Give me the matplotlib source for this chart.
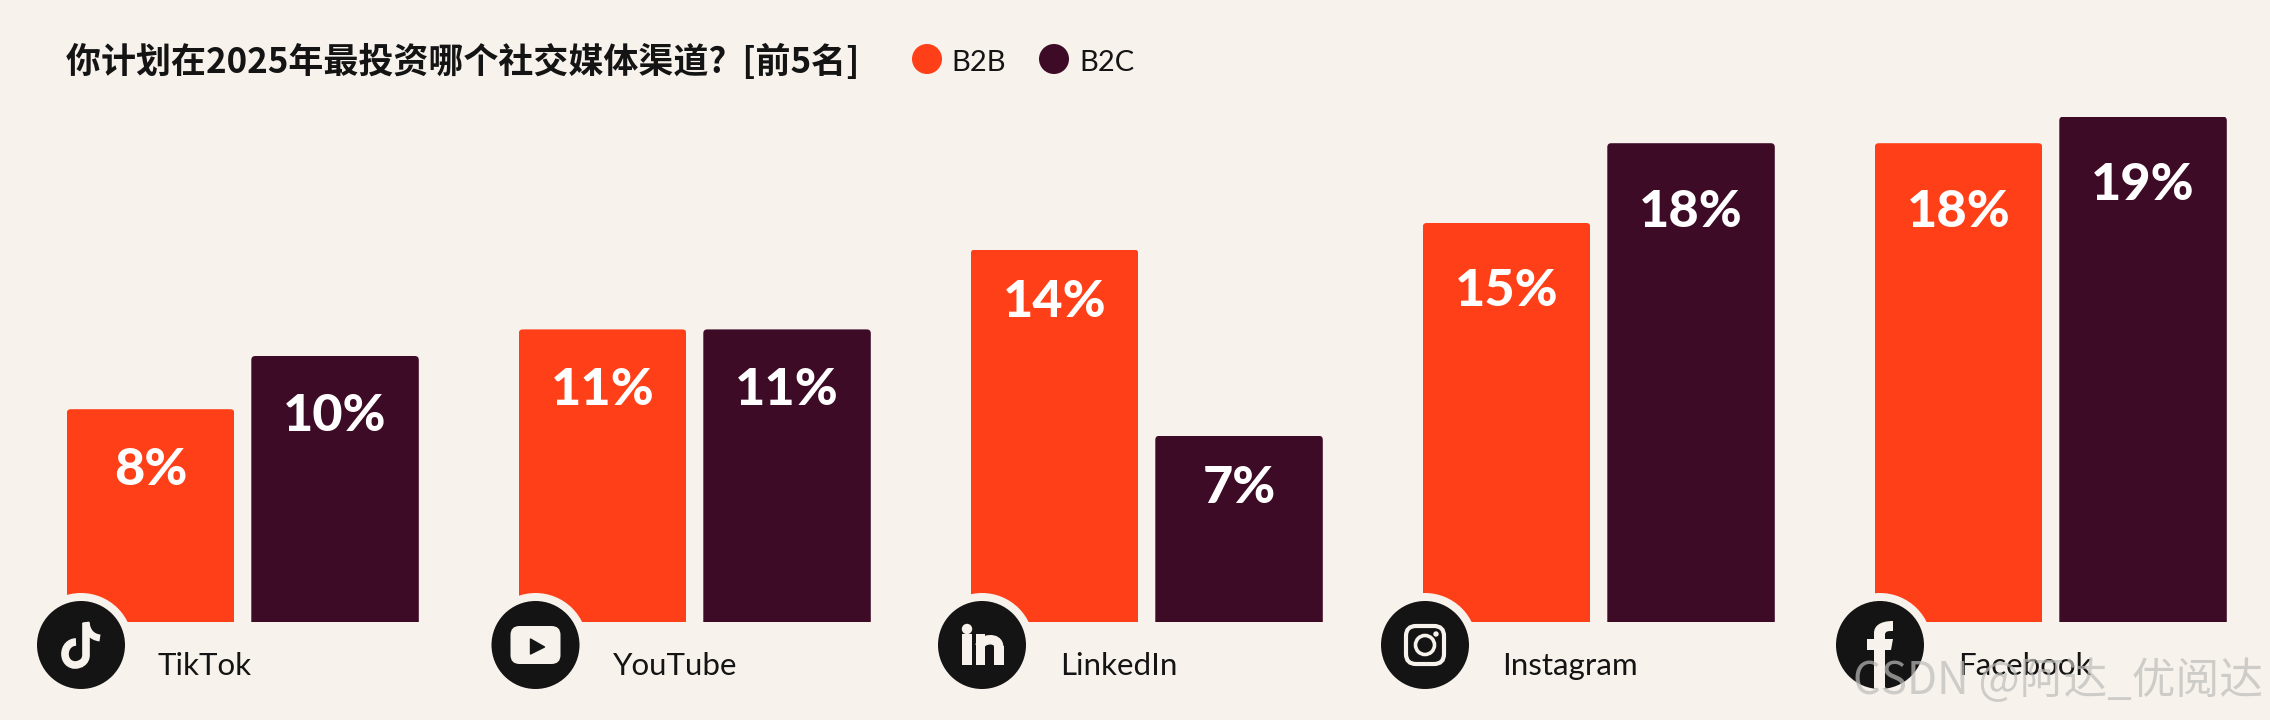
import numpy as np
from matplotlib import pyplot as plt
from matplotlib.patches import Circle, FancyBboxPatch, PathPatch, Polygon, Rectangle
from matplotlib.path import Path
from matplotlib.transforms import IdentityTransform

# Data
platforms = ["TikTok", "YouTube", "LinkedIn", "Instagram", "Facebook"]
b2b = [8, 11, 14, 15, 18]
b2c = [10, 11, 7, 18, 19]
series_names = ["B2B", "B2C"]
title = "你计划在2025年最投资哪个社交媒体渠道?  [前5名]"
watermark = "CSDN @阿达_优阅达"

# Colours
BG = "#F7F2EC"
ORANGE = "#FF3F17"
PLUM = "#3D0B26"
INK = "#141414"

plt.rcParams['font.family'] = ['Lato', 'Noto Sans CJK SC', 'DejaVu Sans']

W, H = 2270, 720
fig = plt.figure(figsize=(W / 100, H / 100), dpi=100, facecolor=BG)

# Bar axes fill the figure, limits chosen so the scale lands on the picture
GROUP = 452.0
PCT = 26.6
ax = fig.add_axes([0, 0, 1, 1])
ax.set_xlim(-66.8 / GROUP, (W - 66.8) / GROUP)
ax.set_ylim(-(H - 622) / PCT, 622 / PCT)
ax.axis('off')

bar_w = 167.5 / GROUP
step = 184.5 / GROUP
x = np.arange(len(platforms))
bars1 = ax.bar(x, b2b, bar_w, align='edge', color=ORANGE)
bars2 = ax.bar(x + step, b2c, bar_w, align='edge', color=PLUM)


# Label drop below the bar top differs a bit with the bar height in the original
def label_drop(v):
    if v <= 7 or v == 14:
        return 53
    if v <= 11:
        return 61
    return 69


# Rounded top corners + value labels
for bars, vals in ((bars1, b2b), (bars2, b2c)):
    for bar, v in zip(bars, vals):
        bb = bar.get_window_extent()
        clip = FancyBboxPatch((bb.x0, bb.y0 - 12), bb.width, bb.height + 12,
                              boxstyle='round,pad=0,rounding_size=4',
                              transform=IdentityTransform())
        bar.set_clip_path(clip)
        ax.annotate(f"{v}%", (bar.get_x() + bar_w / 2, v), xytext=(0, -label_drop(v) * 0.72),
                    textcoords='offset points', ha='center', va='center',
                    color='white', fontsize=37.5, fontweight='black', family='Lato')

# Overlay in pixel coordinates for icons, legend, title
ov = fig.add_axes([0, 0, 1, 1], zorder=5)
ov.set_xlim(0, W)
ov.set_ylim(H, 0)
ov.axis('off')
ov.patch.set_alpha(0)

ov.text(66, 62, title, fontsize=25.2, fontweight='bold', color=INK, va='center', ha='left',
        family=['Noto Sans CJK SC', 'DejaVu Sans'])

for cx, tx, name, col in ((927, 951, series_names[0], ORANGE), (1054, 1079, series_names[1], PLUM)):
    ov.add_patch(Circle((cx, 59), 15, color=col, lw=0))
    ov.text(tx, 63, name, fontsize=21, color=INK, va='center', ha='left', family='Lato')


def stroke(pts, codes, lw, color=BG):
    ov.add_patch(PathPatch(Path(pts, codes), fc='none', ec=color, lw=lw, capstyle='butt'))


def icon_tiktok(cx, cy):
    M, L, C = Path.MOVETO, Path.LINETO, Path.CURVE4
    # note: stem running into bowl, flag at the top
    stroke([(cx + 5, cy - 22), (cx + 5, cy + 10), (cx + 5, cy + 17), (cx - 1, cy + 20), (cx - 6, cy + 20),
            (cx - 11, cy + 20), (cx - 16, cy + 16), (cx - 16, cy + 9),
            (cx - 16, cy + 2), (cx - 11, cy - 3), (cx - 5, cy - 3)],
           [M, L, C, C, C, C, C, C, C, C, C], 5.5)
    stroke([(cx + 5, cy - 23), (cx + 6, cy - 13), (cx + 11, cy - 8), (cx + 19, cy - 7)],
           [M, C, C, C], 5.0)


def icon_youtube(cx, cy):
    ov.add_patch(FancyBboxPatch((cx - 25, cy - 19), 50, 38, boxstyle='round,pad=0,rounding_size=9', fc=BG, ec='none'))
    ov.add_patch(Polygon([(cx - 5, cy - 6), (cx + 9, cy + 2), (cx - 5, cy + 9)], fc=INK, ec=INK, lw=1, joinstyle='round'))


def icon_linkedin(cx, cy):
    ov.add_patch(Circle((cx - 15, cy - 16), 5.2, fc=BG, ec='none'))
    ov.add_patch(Rectangle((cx - 20, cy - 11), 10.2, 31, fc=BG, ec='none'))
    ov.add_patch(Rectangle((cx - 6.5, cy - 11), 9.5, 31, fc=BG, ec='none'))
    ov.add_patch(Rectangle((cx + 12, cy + 1), 9.5, 19, fc=BG, ec='none'))
    M, C = Path.MOVETO, Path.CURVE4
    stroke([(cx - 2, cy + 1), (cx - 1, cy - 6), (cx + 16.7, cy - 9), (cx + 16.7, cy + 2)], [M, C, C, C], 6.8)


def icon_instagram(cx, cy):
    ov.add_patch(FancyBboxPatch((cx - 19, cy - 19), 38, 38, boxstyle='round,pad=0,rounding_size=10', fc='none', ec=BG, lw=3))
    ov.add_patch(Circle((cx, cy), 9.5, fc='none', ec=BG, lw=2.6))
    ov.add_patch(Circle((cx + 11, cy - 11), 2.7, fc=BG, ec='none'))


def icon_facebook(cx, cy, ring):
    M, L, C, Z = Path.MOVETO, Path.LINETO, Path.CURVE4, Path.CLOSEPOLY
    pts = [(cx - 6, cy + 44), (cx - 6, cy + 5), (cx - 13, cy + 5), (cx - 13, cy - 6), (cx - 6, cy - 6),
           (cx - 6, cy - 12), (cx - 6, cy - 19), (cx + 0, cy - 24), (cx + 13, cy - 24),
           (cx + 13, cy - 14), (cx + 8, cy - 14), (cx + 5, cy - 14), (cx + 5, cy - 10),
           (cx + 5, cy - 6), (cx + 13, cy - 6), (cx + 11, cy + 5), (cx + 5, cy + 5), (cx + 5, cy + 44), (cx - 6, cy + 44)]
    codes = [M, L, L, L, L, L, C, C, C, L, C, C, C, L, L, L, L, L, Z]
    p = PathPatch(Path(pts, codes), fc=BG, ec='none')
    ov.add_patch(p)
    p.set_clip_path(ring)


icons = [icon_tiktok, icon_youtube, icon_linkedin, icon_instagram, icon_facebook]
icon_x = [81, 535.5, 982, 1425, 1880]
label_x = [158, 613, 1060, 1502, 1958]

for name, draw, cx, lx in zip(platforms, icons, icon_x, label_x):
    ov.add_patch(Circle((cx, 645), 52, fc=BG, ec='none'))
    ring = Circle((cx, 645), 44, fc=INK, ec='none')
    ov.add_patch(ring)
    if draw is icon_facebook:
        draw(cx, 645, ring)
    else:
        draw(cx, 645)
    ov.text(lx, 675, name, fontsize=22.5, color=INK, va='baseline', ha='left', family='Lato')

# CSDN watermark
ov.text(1853, 681, watermark, fontsize=31.5, color='#bdbdbb', alpha=0.7, va='center', ha='left', zorder=10,
        family=['Noto Sans CJK SC', 'DejaVu Sans'])

fig.savefig('out.png', dpi=100, facecolor=BG)
